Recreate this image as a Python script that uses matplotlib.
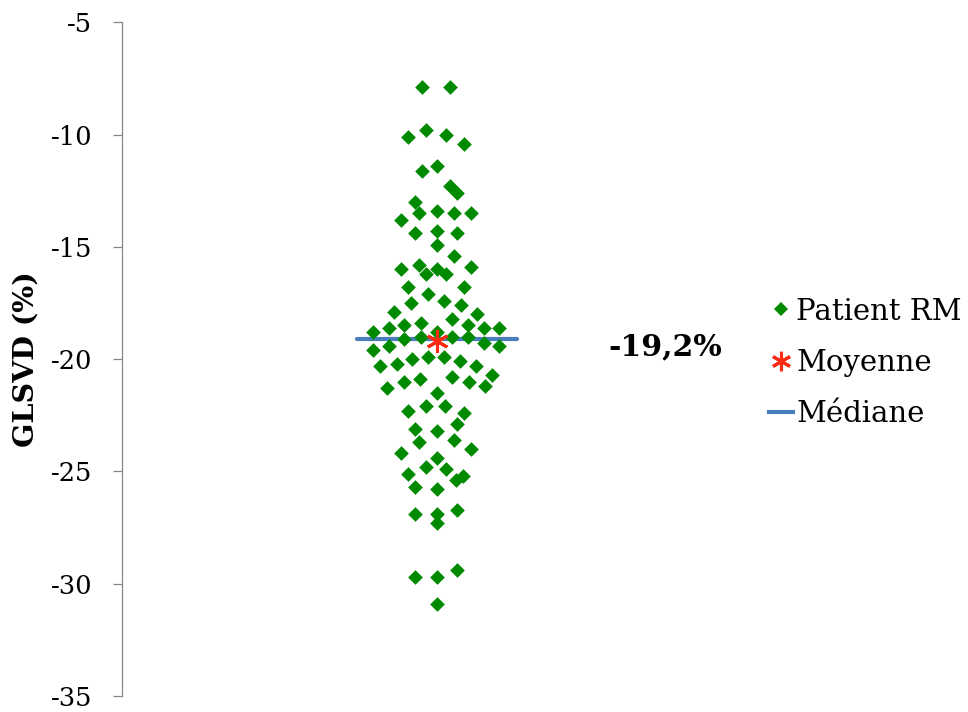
import matplotlib
matplotlib.use("Agg")
import matplotlib.pyplot as plt
from matplotlib.lines import Line2D

# GLSVD values (%) of the MRI patients and their horizontal spread positions
patient_spread = [
    -1.8, 1.7,
    -3.6, -1.3, 1.2, 3.5,
    -1.8, 0.0, 1.7, 2.6,
    -2.7, -2.3, -4.5, 0.0, 2.2, 4.4,
    -2.7, 0.0, 2.6, 0.0, 2.2,
    -4.5, -2.3, -1.3, 0.0, 1.2, 4.4,
    -3.6, 3.5, -1.1, -3.3, 1.0, 3.1,
    -5.4, 5.2, 2.0, -4.1, -2.0, -6.1, 4.0, 6.0, 8.0,
    -8.1, 0.0, -4.1, -2.0, 2.0, 4.0,
    -8.1, -6.1, 6.0, 8.0, -1.1, 1.0,
    -7.2, -5.1, -3.1, 3.0, 5.0, 7.0, 2.0, -4.2, -2.1, 4.1,
    -6.3, 6.1, 0.0,
    -3.6, -1.3, 1.1, 3.5, 2.6, -2.7, 0.0,
    -2.3, 2.2, 4.4, -4.5, 0.0, -1.3, 1.2, -3.6, 2.5, 3.4,
    -2.7, 0.0, -2.7, 0.0, 0.0, 2.6,
    -2.7, 0.0, 2.6, 0.0,
]
glsvd = [
    -7.9, -7.9,
    -10.1, -9.8, -10.0, -10.4,
    -11.6, -11.4, -12.3, -12.6,
    -13.0, -13.5, -13.8, -13.4, -13.5, -13.5,
    -14.4, -14.3, -14.4, -14.9, -15.4,
    -16.0, -15.8, -16.2, -16.0, -16.2, -15.9,
    -16.8, -16.8, -17.1, -17.5, -17.4, -17.6,
    -17.9, -18.0, -18.2, -18.5, -18.4, -18.6, -18.5, -18.6, -18.6,
    -18.8, -18.8, -19.1, -19.0, -19.0, -19.0,
    -19.6, -19.4, -19.3, -19.4, -19.9, -19.9,
    -20.3, -20.2, -20.0, -20.1, -20.3, -20.7, -20.8, -21.0, -20.9, -21.0,
    -21.3, -21.2, -21.5,
    -22.3, -22.1, -22.1, -22.4, -22.9, -23.1, -23.2,
    -23.7, -23.6, -24.0, -24.2, -24.4, -24.8, -24.9, -25.1, -25.4, -25.2,
    -25.7, -25.8, -26.9, -26.9, -27.3, -26.7,
    -29.7, -29.7, -29.4, -30.9,
]
mean_value = -19.2
median_value = -19.1
mean_label = "-19,2%"

y_ticks = [-35, -30, -25, -20, -15, -10, -5]
y_label = "GLSVD (%)"
legend_labels = ["Patient RM", "Moyenne", "Médiane"]

GREEN = "#008A00"
RED = "#FF2A12"
BLUE = "#4A7EBB"
AXIS_GREY = "#868686"
SERIF = "DejaVu Serif"

W, H = 968, 712
fig = plt.figure(figsize=(W / 100, H / 100), dpi=100)
fig.patch.set_facecolor("white")
ax = fig.add_axes([122 / W, 16 / H, (751 - 122) / W, (696 - 22.3) / H])

# median bar, patient points, then the mean marker on top
ax.plot([-10.2, 10.2], [median_value, median_value], color=BLUE, lw=3.0,
        solid_capstyle="round", zorder=2)
ax.scatter(patient_spread, glsvd, marker="D", s=56, color=GREEN,
           linewidths=0, zorder=3)
ax.plot([0], [mean_value], marker=(6, 2, 0), markersize=16, color=RED,
        markeredgewidth=2.2, linestyle="none", zorder=4)

ax.text(29.1, -19.44, mean_label, ha="center", va="center",
        fontsize=21.5, fontweight="bold", family=SERIF, color="black")

ax.set_xlim(-40.08, 40.05)
ax.set_ylim(-35, -5)
ax.set_yticks(y_ticks)
ax.set_yticklabels([str(t) for t in y_ticks], family=SERIF, fontsize=18.5)
ax.set_xticks([])
for side in ("top", "right", "bottom"):
    ax.spines[side].set_visible(False)
ax.spines["left"].set_color(AXIS_GREY)
ax.spines["left"].set_linewidth(0.9)
ax.tick_params(axis="y", direction="out", length=6.5, width=0.9,
               color=AXIS_GREY, pad=15, labelcolor="black")
ax.set_ylabel(y_label, family=SERIF, fontsize=20.5, fontweight="bold",
              labelpad=8)

handles = [
    Line2D([], [], linestyle="none", marker="D", markersize=7.2,
           markerfacecolor=GREEN, markeredgewidth=0),
    Line2D([], [], linestyle="none", marker=(6, 2, 0), markersize=14,
           color=RED, markeredgewidth=2.2),
    Line2D([], [], color=BLUE, lw=3.0),
]
ax.legend(handles, legend_labels, loc="center left",
          bbox_to_anchor=(769 / W, 1 - 363 / H), bbox_transform=fig.transFigure,
          frameon=False, handlelength=0.82, handletextpad=0.12,
          labelspacing=0.8, borderaxespad=0, borderpad=0,
          prop={"family": SERIF, "size": 21})

fig.savefig("out.png", dpi=100, facecolor="white")
